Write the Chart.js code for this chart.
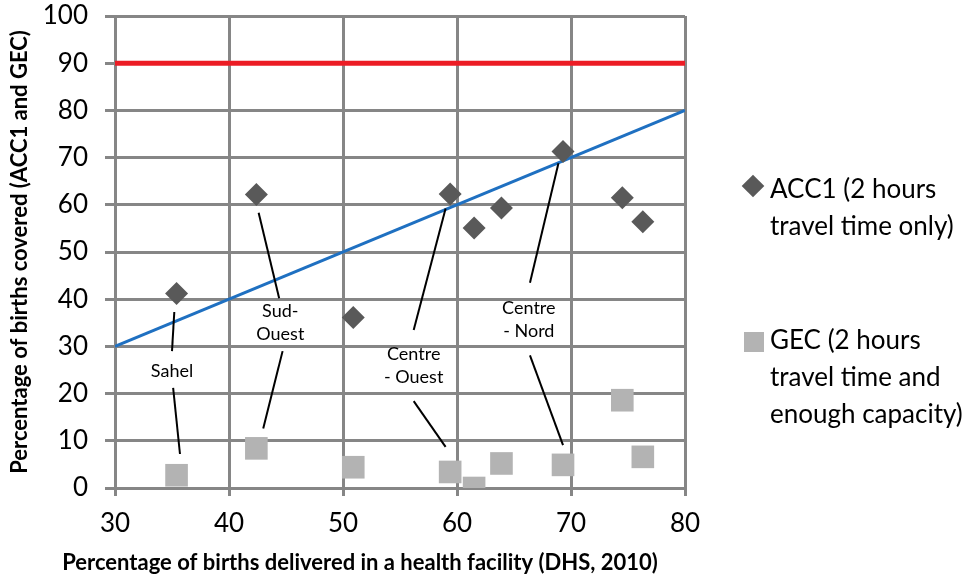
<!DOCTYPE html>
<html>
<head>
<meta charset="utf-8">
<script src="https://cdn.jsdelivr.net/npm/chart.js@4/dist/chart.umd.min.js"></script>
<style>
  body { margin: 0; background: #fff; }
  #wrap { position: relative; width: 969px; height: 579px; }
  .leg { position: absolute; left: 770px; font-family: Lato, sans-serif; font-size: 26px; line-height: 37px; color: #000; white-space: nowrap; }
  .mark { position: absolute; }
</style>
</head>
<body>
<div id="wrap">
  <canvas id="births" width="969" height="579"></canvas>
  <div class="mark" style="left:745px;top:178px;width:16px;height:16px;background:#595959;transform:rotate(45deg);"></div>
  <div class="leg" style="top:170px;">ACC1 (2 hours<br>travel time only)</div>
  <div class="mark" style="left:744px;top:332px;width:20px;height:20px;background:#b3b3b3;"></div>
  <div class="leg" style="top:321px;">GEC (2 hours<br>travel time and<br>enough capacity)</div>
</div>
<script>
// births delivered in a health facility, one value per region (x)
let facilityBirths = [35.4, 42.4, 50.9, 59.4, 61.5, 63.9, 69.3, 74.5, 76.3];
let acc1 = [41.2, 62.2, 36.1, 62.3, 55.1, 59.3, 71.3, 61.5, 56.4];
let gec = [2.7, 8.4, 4.4, 3.4, 0, 5.2, 4.9, 18.6, 6.6];

let targetLine = [[30, 90], [80, 90]];
let equalLine = [[30, 30], [80, 80]];

// region labels and their leader lines (data units)
let labelText = [["Sahel"], ["Sud-", "Ouest"], ["Centre", "- Ouest"], ["Centre", "- Nord"]];
let labelX = [35.0, 44.5, 56.2, 66.3];
let labelY = [24.7, 35.0, 26.0, 35.6];
let leaders = [
    [[35.2, 37.3], [35.0, 29.0]], [[35.1, 21.2], [35.7, 7.2]],
    [[42.6, 58.3], [44.4, 40.2]], [[44.7, 29.0], [43.0, 12.6]],
    [[59.0, 59.2], [56.2, 33.5]], [[56.2, 18.4], [59.0, 8.7]],
    [[68.9, 68.8], [66.4, 43.5]], [[66.4, 28.1], [69.3, 9.1]]
];

let xTitle = "Percentage of births delivered in a health facility (DHS, 2010)";
let yTitle = "Percentage of births covered (ACC1 and GEC)";

function toPoints(xs, ys) {
    return xs.map((x, i) => ({ x: x, y: ys[i] }));
}
function pairPoints(pairs) {
    return pairs.map(p => ({ x: p[0], y: p[1] }));
}

let gridColor = "#868686";

let datasets = [
    {
        label: "ACC1 (2 hours travel time only)",
        data: toPoints(facilityBirths, acc1),
        pointStyle: "rectRot",
        pointRadius: 11.5,
        backgroundColor: "#595959",
        borderColor: "#595959",
        borderWidth: 0
    },
    {
        label: "GEC (2 hours travel time and enough capacity)",
        data: toPoints(facilityBirths, gec),
        pointStyle: "rect",
        pointRadius: 16,
        backgroundColor: "#b3b3b3",
        borderColor: "#b3b3b3",
        borderWidth: 0
    }
];

leaders.forEach(seg => {
    datasets.push({
        data: pairPoints(seg),
        showLine: true,
        borderColor: "#000",
        borderWidth: 2,
        pointRadius: 0
    });
});

datasets.push({
    data: pairPoints(equalLine),
    showLine: true,
    borderColor: "#1f70c1",
    borderWidth: 3,
    pointRadius: 0
});
datasets.push({
    data: pairPoints(targetLine),
    showLine: true,
    borderColor: "#ec1c24",
    borderWidth: 5,
    pointRadius: 0
});

let regionLabels = {
    id: "regionLabels",
    afterDatasetsDraw(chart) {
        let ctx = chart.ctx;
        let xs = chart.scales.x, ys = chart.scales.y;
        ctx.save();
        ctx.font = "18px Lato, sans-serif";
        ctx.fillStyle = "#000";
        ctx.textAlign = "center";
        ctx.textBaseline = "middle";
        labelText.forEach((lines, i) => {
            let px = xs.getPixelForValue(labelX[i]);
            let py = ys.getPixelForValue(labelY[i]);
            let start = py - (lines.length - 1) * 23 / 2;
            lines.forEach((t, j) => ctx.fillText(t, px, start + j * 23));
        });
        // x axis title sits left of the plot centre, like the original
        ctx.font = "bold 22px Lato, sans-serif";
        ctx.fillText(xTitle, 360, 563);
        ctx.restore();
    }
};

new Chart(document.getElementById("births"), {
    type: "scatter",
    data: { datasets: datasets },
    plugins: [regionLabels],
    options: {
        responsive: false,
        animation: false,
        layout: { padding: { left: 0, right: 284, top: 14, bottom: 0 } },
        plugins: {
            legend: { display: false },
            tooltip: { enabled: false }
        },
        scales: {
            x: {
                type: "linear",
                min: 30,
                max: 80,
                afterFit(scale) {
                    scale.height = 91;
                    scale.paddingLeft = 0;
                    scale.paddingRight = 0;
                },
                ticks: { stepSize: 10, color: "#000", padding: 12, font: { family: "Lato", size: 26 } },
                grid: { color: gridColor, lineWidth: 3, tickLength: 8 },
                border: { color: gridColor, width: 3 },
                title: { display: false }
            },
            y: {
                min: 0,
                max: 100,
                afterFit(scale) {
                    scale.width = 115;
                    scale.paddingTop = 0;
                    scale.paddingBottom = 0;
                },
                ticks: { stepSize: 10, color: "#000", padding: 17, font: { family: "Lato", size: 26 } },
                grid: { color: gridColor, lineWidth: 3, tickLength: 10 },
                border: { color: gridColor, width: 3 },
                title: {
                    display: true,
                    text: yTitle,
                    color: "#000",
                    font: { family: "Lato", size: 22, weight: "bold" },
                    padding: { top: 7, bottom: 0 }
                }
            }
        }
    }
});
</script>
</body>
</html>
